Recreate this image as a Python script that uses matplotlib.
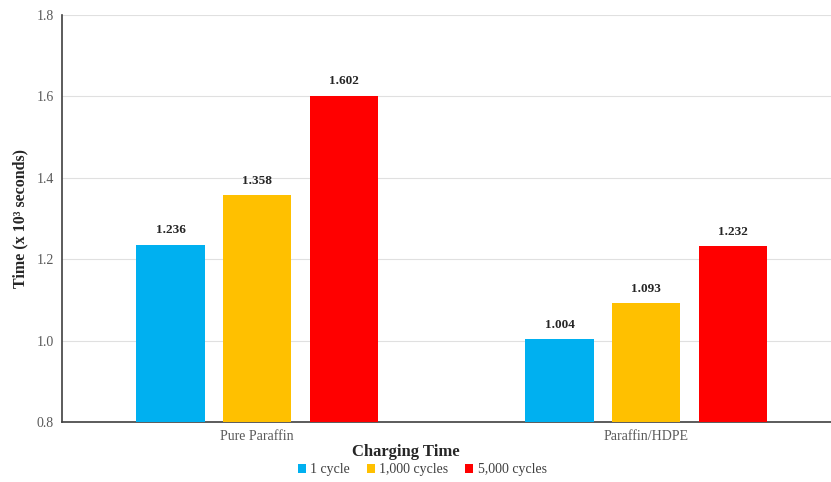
import matplotlib
matplotlib.use("Agg")
import matplotlib.pyplot as plt
import numpy as np

categories = ["Pure Paraffin", "Paraffin/HDPE"]
series_names = ["1 cycle", "1,000 cycles", "5,000 cycles"]
cycle1 = [1.236, 1.004]
cycle1000 = [1.358, 1.093]
cycle5000 = [1.602, 1.232]
yticks = [0.8, 1.0, 1.2, 1.4, 1.6, 1.8]

colors = ["#00B0F0", "#FFC000", "#FF0000"]
plt.rcParams['font.family'] = ['Liberation Serif', 'DejaVu Serif']

fig = plt.figure(figsize=(8.31, 4.82), dpi=100)
ax = fig.add_axes([0.0746, 0.1245, 0.925, 0.8444])

x = np.arange(len(categories))
offsets = [-0.222, 0.0, 0.224]
width = 0.175
for vals, off, c, name in zip([cycle1, cycle1000, cycle5000], offsets, colors, series_names):
    bars = ax.bar(x + off, vals, width, color=c, label=name, zorder=3)
    for b, v in zip(bars, vals):
        ax.text(b.get_x() + b.get_width() / 2, v + 0.02, f"{v:.3f}", ha="center", va="bottom",
                fontsize=9.5, fontweight="bold", color="#262626")

ax.set_ylim(0.8, 1.8)
ax.set_xlim(-0.501, 1.475)
ax.set_yticks(yticks)
ax.set_yticklabels([f"{t:.1f}" for t in yticks])
ax.set_xticks(x)
ax.set_xticklabels(categories)
ax.tick_params(axis="both", length=0, labelsize=10, colors="#595959", pad=6)
ax.yaxis.grid(True, color="#e0e0e0", linewidth=0.8, zorder=0)
ax.set_axisbelow(True)
for s in ["top", "right"]:
    ax.spines[s].set_visible(False)
ax.spines["left"].set_color("#404040")
ax.spines["left"].set_linewidth(1.2)
ax.spines["bottom"].set_color("#404040")
ax.spines["bottom"].set_linewidth(1.2)

ax.set_ylabel("Time (x 10³ seconds)", fontsize=11.5, fontweight="bold", color="#262626", labelpad=6)
fig.text(0.5 - 0.012, 0.062, "Charging Time", ha="center", va="center", fontsize=12,
         fontweight="bold", color="#262626")
leg = fig.legend(loc="center", bbox_to_anchor=(0.508, 0.025), ncol=3, frameon=False,
                 fontsize=10, handlelength=0.6, handleheight=0.6, handletextpad=0.3,
                 columnspacing=1.2)
for t in leg.get_texts():
    t.set_color("#404040")

fig.savefig("out.png", dpi=100)
